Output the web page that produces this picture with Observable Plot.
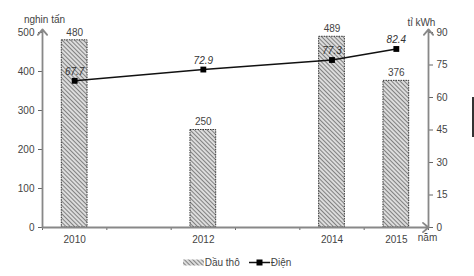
<!DOCTYPE html>
<html>
<head>
<meta charset="utf-8">
<script src="https://cdn.jsdelivr.net/npm/d3@7"></script>
<script src="https://cdn.jsdelivr.net/npm/@observablehq/plot@0.6"></script>
<style>
  html, body { margin: 0; padding: 0; background: #fff; }
  body { width: 474px; height: 276px; position: relative; overflow: hidden; font-family: "Liberation Sans", Arial, sans-serif; color: #444; }
  #legend { height: 20px; display: flex; justify-content: center; align-items: center; font-size: 10px; color: #444; }
  .item { display: flex; align-items: center; }
  #artifact { position: absolute; left: 472px; top: 97px; width: 2px; height: 40px; background: #333; }
</style>
</head>
<body>
<div id="chart"></div>
<div id="legend"></div>
<div id="artifact"></div>
<script>
// ---- data ----
const years = [2010, 2012, 2014, 2015];
const yearLabels = ["2010", "2012", "2014", "2015"];
const crudeOil = [480, 250, 489, 376];          // nghìn tấn
const electricity = [67.7, 72.9, 77.3, 82.4];   // tỉ kWh
const leftTicks = [0, 100, 200, 300, 400, 500];
const rightTicks = [0, 15, 30, 45, 60, 75, 90];
const seriesNames = ["Dầu thô", "Điện"];

const leftMax = 500, rightMax = 90;
const k = leftMax / rightMax;
const data = years.map((y, i) => ({year: y, oil: crudeOil[i], elec: electricity[i]}));
const xDomain = [years[0] - 0.5, years[years.length - 1] + 0.5];
const boundaries = d3.range(xDomain[0], xDomain[1] + 0.01, 1);
const axisTop = leftMax * 1.016;

const chart = Plot.plot({
  width: 474,
  height: 252,
  marginLeft: 42,
  marginRight: 46,
  marginTop: 32,
  marginBottom: 25,
  x: {domain: xDomain, axis: null},
  y: {domain: [0, leftMax], axis: null},
  style: {fontFamily: "Liberation Sans, Arial, sans-serif", fontSize: "10px", color: "#444", overflow: "visible", background: "#fff"},
  marks: [
    Plot.rectY(data, {x1: d => d.year - 0.2, x2: d => d.year + 0.2, y: "oil", fill: "url(#hatch)", stroke: "#333", strokeWidth: 1, strokeDasharray: "1.5,1"}),
    Plot.axisY({ticks: leftTicks, anchor: "left", tickSize: 4, tickPadding: 4, label: null, stroke: "#666", fill: "#444"}),
    Plot.axisY({ticks: rightTicks.map(v => v * k), anchor: "right", tickFormat: v => Math.round(v / k), tickSize: 4, tickPadding: 4, label: null, stroke: "#666", fill: "#444"}),
    Plot.axisX({ticks: boundaries, tickFormat: () => "", tickSize: 3, label: null, stroke: "#666"}),
    Plot.axisX({ticks: years, tickFormat: d => yearLabels[years.indexOf(d)], tickSize: 0, tickPadding: 8, label: null, fill: "#444"}),
    Plot.arrow([0], {x1: xDomain[0], x2: xDomain[0], y1: 0, y2: axisTop, headLength: 6, headAngle: 80, bend: 0, stroke: "#888", strokeWidth: 1.8}),
    Plot.arrow([0], {x1: xDomain[1], x2: xDomain[1], y1: 0, y2: axisTop, headLength: 6, headAngle: 80, bend: 0, stroke: "#888", strokeWidth: 1.8}),
    Plot.arrow([0], {x1: xDomain[0], x2: xDomain[1], y1: 0, y2: 0, headLength: 6, headAngle: 80, bend: 0, stroke: "#888", strokeWidth: 1.8}),
    Plot.text(data, {x: "year", y: "oil", text: d => String(d.oil), dy: -8, fill: "#444"}),
    Plot.line(data, {x: "year", y: d => d.elec * k, stroke: "#111", strokeWidth: 1.5}),
    Plot.dot(data, {x: "year", y: d => d.elec * k, symbol: "square", r: 3.3, fill: "#000", stroke: "none"}),
    Plot.text(data, {x: "year", y: d => d.elec * k, text: d => d.elec.toFixed(1), dy: -9, fontStyle: "italic", fill: "#333"}),
    Plot.text(["nghin tấn"], {x: () => xDomain[0], frameAnchor: "top", text: d => d, dy: -17, dx: 2, textAnchor: "middle", fill: "#444"}),
    Plot.text(["tỉ kWh"], {x: () => xDomain[1], frameAnchor: "top", text: d => d, dy: -14, dx: -7, textAnchor: "middle", fill: "#444"}),
    Plot.text(["năm"], {x: () => xDomain[1], frameAnchor: "bottom", text: d => d, dy: 13, dx: -1, textAnchor: "middle", fill: "#444"})
  ]
});

function addHatch(svgSel, id) {
  const defs = svgSel.insert("defs", ":first-child");
  const p = defs.append("pattern")
    .attr("id", id)
    .attr("patternUnits", "userSpaceOnUse")
    .attr("width", 3).attr("height", 3)
    .attr("patternTransform", "rotate(-45)");
  p.append("rect").attr("width", 3).attr("height", 3).attr("fill", "#dcdcdc");
  p.append("line").attr("x1", 0).attr("y1", 0).attr("x2", 0).attr("y2", 3)
    .attr("stroke", "#5a5a5a").attr("stroke-width", 1.4);
}
addHatch(d3.select(chart), "hatch");
document.getElementById("chart").appendChild(chart);

// legend
const legend = d3.select("#legend");
const it1 = legend.append("div").attr("class", "item");
const sw1 = it1.append("svg").attr("width", 21).attr("height", 7).style("margin-right", "1px");
addHatch(sw1, "hatch2");
sw1.append("rect").attr("x", 0).attr("y", 0.5).attr("width", 21).attr("height", 6).attr("fill", "url(#hatch2)");
it1.append("span").text(seriesNames[0]);
const it2 = legend.append("div").attr("class", "item").style("margin-left", "9px");
const sw2 = it2.append("svg").attr("width", 21).attr("height", 9).style("margin-right", "1px");
sw2.append("line").attr("x1", 0).attr("x2", 21).attr("y1", 4.5).attr("y2", 4.5).attr("stroke", "#111").attr("stroke-width", 1.5);
sw2.append("rect").attr("x", 7.5).attr("y", 1.5).attr("width", 6).attr("height", 6).attr("fill", "#000");
it2.append("span").text(seriesNames[1]);
</script>
</body>
</html>
